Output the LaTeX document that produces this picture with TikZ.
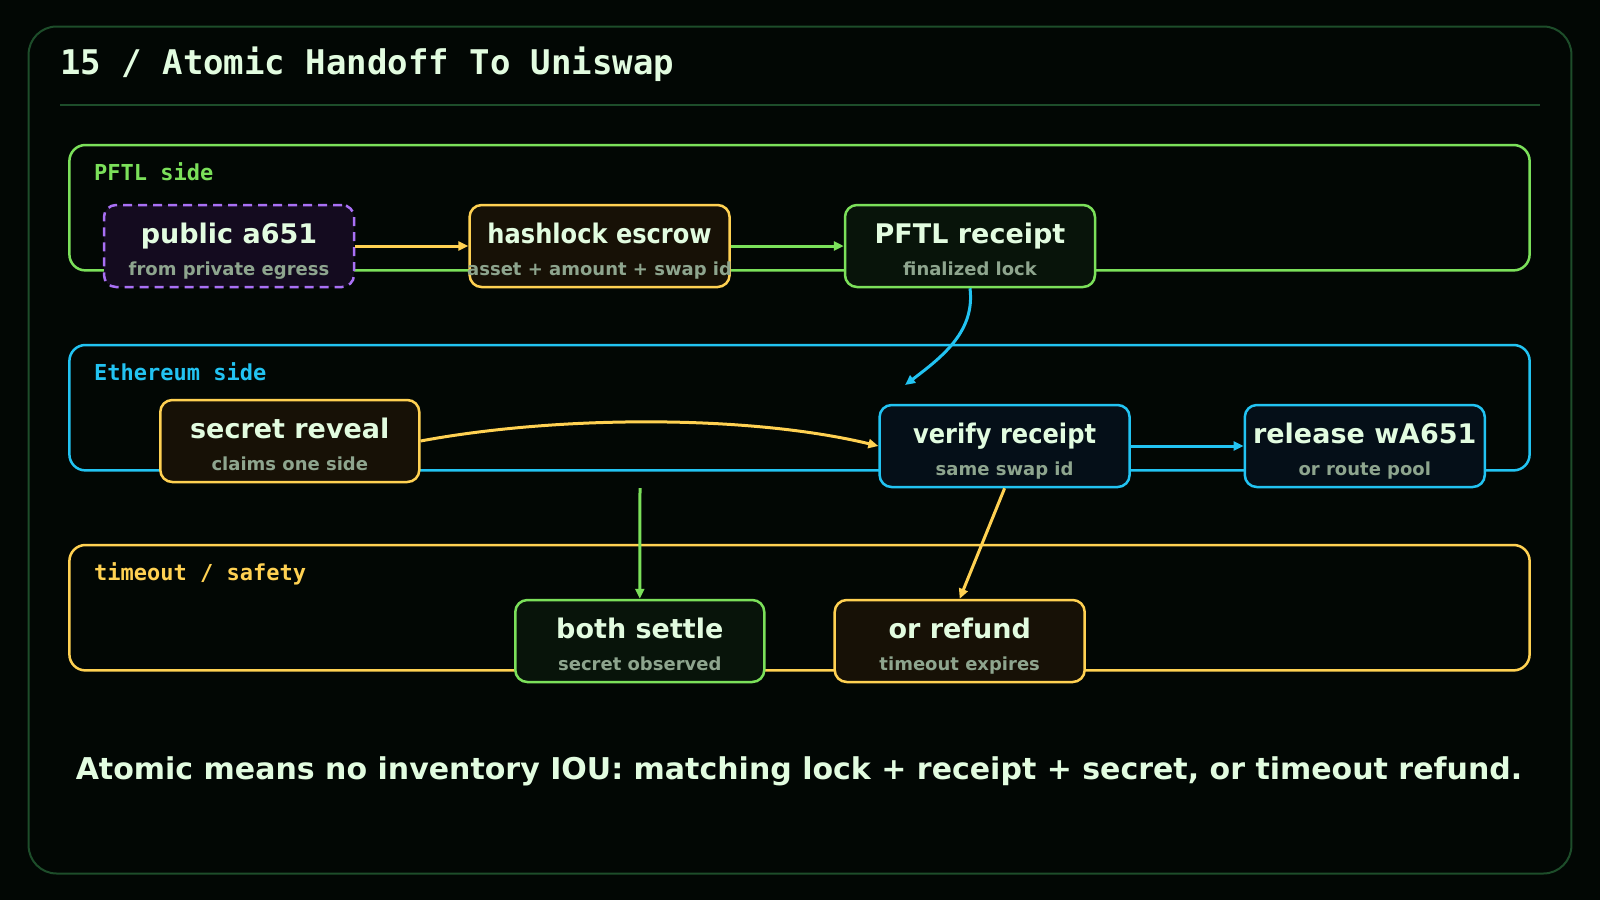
\documentclass[tikz,border=0pt]{standalone}
\usepackage{fontspec}
\setmainfont{DejaVu Sans}
\newfontfamily\monofont{DejaVu Sans Mono}
\usetikzlibrary{arrows.meta}

\definecolor{bgcol}{HTML}{020704}
\definecolor{framecol}{HTML}{1D4D2A}
\definecolor{grn}{HTML}{7BE05A}
\definecolor{blu}{HTML}{22C3F2}
\definecolor{yel}{HTML}{FFD152}
\definecolor{pur}{HTML}{A970F5}
\definecolor{txtcol}{HTML}{E2FCE0}
\definecolor{subcol}{HTML}{8EA58E}
\definecolor{grnbg}{HTML}{08140A}
\definecolor{blubg}{HTML}{050F18}
\definecolor{yelbg}{HTML}{171106}
\definecolor{purbg}{HTML}{140B1F}

\tikzset{
  lane/.style={draw=#1, line width=2.5pt, rounded corners=16pt},
  box/.style={draw=#1, line width=2.5pt, rounded corners=12pt, minimum height=82pt, inner sep=0pt},
  maintxt/.style={anchor=base, inner sep=0pt, text=txtcol, font=\fontsize{27}{30}\selectfont\bfseries},
  subtxt/.style={anchor=base, inner sep=0pt, text=subcol, font=\fontsize{18}{21}\selectfont\bfseries},
  lanetxt/.style={anchor=base west, inner sep=0pt, text=#1, font=\monofont\fontsize{22}{26}\selectfont\bfseries},
  flow/.style={draw=#1, line width=3pt, -{Triangle[length=10pt,width=9pt]}}
}

\begin{document}
\begin{tikzpicture}[x=1pt, y=-1pt]
  \fill[bgcol] (0,0) rectangle (1600,900);
  \useasboundingbox (0,0) rectangle (1600,900);
  \draw[framecol, line width=2pt, rounded corners=28pt] (28.6,26.5) rectangle (1571.4,873.5);
  \draw[framecol, line width=2pt] (60,105) -- (1540,105);
  \node[anchor=base west, inner sep=0pt, text=txtcol, font=\monofont\fontsize{34}{40}\selectfont\bfseries] (title) at (60,74) {15 / Atomic Handoff To Uniswap};

  \draw[lane=grn] (69.4,145) rectangle (1529.6,270.4);
  \draw[lane=blu] (69.4,345) rectangle (1529.6,470.4);
  \draw[lane=yel] (69.4,545) rectangle (1529.6,670.4);
  \node[lanetxt=grn] (pftlside) at (94,180) {PFTL side};
  \node[lanetxt=blu] (ethside) at (94,380) {Ethereum side};
  \node[lanetxt=yel] (safety) at (94,580) {timeout / safety};

  \node[box=pur, fill=purbg, minimum width=250pt, dash pattern=on 9pt off 6pt] (pub) at (229,246) {};
  \node[box=yel, fill=yelbg, minimum width=260pt] (hash) at (599.6,246) {};
  \node[box=grn, fill=grnbg, minimum width=250pt] (rcpt) at (970,246) {};
  \node[box=yel, fill=yelbg, minimum width=259pt] (reveal) at (289.8,441) {};
  \node[box=blu, fill=blubg, minimum width=250pt] (verify) at (1004.6,446) {};
  \node[box=blu, fill=blubg, minimum width=240pt] (release) at (1364.8,446) {};
  \node[box=grn, fill=grnbg, minimum width=249pt] (settle) at (639.8,641) {};
  \node[box=yel, fill=yelbg, minimum width=250pt] (refund) at (959.7,641) {};

  \foreach \n/\t/\s in {pub/public a651/from private egress,
                        hash/\scalebox{0.893}[1]{hashlock escrow}/asset + amount + swap id,
                        rcpt/PFTL receipt/finalized lock,
                        reveal/secret reveal/claims one side,
                        verify/\scalebox{0.894}[1]{verify receipt}/same swap id,
                        release/release wA651/or route pool,
                        settle/both settle/secret observed,
                        refund/or refund/timeout expires}{
    \node[maintxt] (\n-t) at ([yshift=-39.5pt]\n.north) {\t};
    \node[subtxt] (\n-s) at ([yshift=-72pt]\n.north) {\s};
  }

  \coordinate (land) at (905,385);
  \coordinate (split) at (640,488);

  \draw[flow=yel] (pub) -- (hash);
  \draw[flow=grn] (hash) -- (rcpt);
  \draw[flow=blu] (rcpt.south) .. controls (975,330) and (945,355) .. (land);
  \draw[flow=yel] (reveal.east) .. controls (560,415) and (750,415) .. (verify.west);
  \draw[flow=blu] (verify) -- (release);
  \draw[flow=grn] (split) -- (settle.north);
  \draw[flow=yel] (verify.south) -- (refund.north);

  \node[anchor=base, inner sep=0pt, text=txtcol, font=\fontsize{30}{36}\selectfont\bfseries] (summary) at (799,779) {Atomic means no inventory IOU: matching lock + receipt + secret, or timeout refund.};
\end{tikzpicture}
\end{document}
